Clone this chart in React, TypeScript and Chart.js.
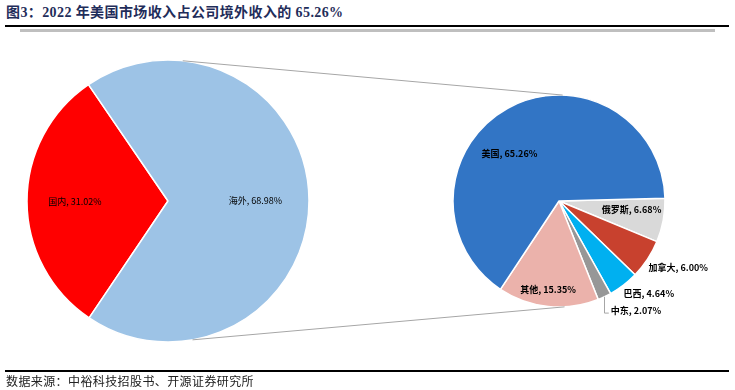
import React, { useEffect, useRef } from "react";
import { Chart, registerables } from "chart.js";

Chart.register(...registerables);

// ---- data ----
const mainCategories = ["国内", "海外"];
const mainValues = [31.02, 68.98];
const subCategories = ["俄罗斯", "加拿大", "巴西", "中东", "其他", "美国"];
const subValues = [6.68, 6.0, 4.64, 2.07, 15.35, 65.26];

const titleText = "图3：2022 年美国市场收入占公司境外收入的 65.26%";
const sourceText = "数据来源：中裕科技招股书、开源证券研究所";

// ---- styles ----
const mainColors = ["#FF0000", "#9DC3E6"];
const subColors = ["#D9D9D9", "#C8412E", "#00B0F0", "#979797", "#EBB2AB", "#3275C5"];
const mainLabelLayout = [
  { da: 0, f: 0.66, leader: false },
  { da: 0, f: 0.62, leader: false },
];
const subLabelLayout = [
  { da: -3.5, f: 0.69, leader: false },
  { da: -4, f: 1.29, leader: false },
  { da: -6.5, f: 1.22, leader: false },
  { da: -9.8, f: 1.26, leader: true },
  { da: 1.1, f: 0.84, leader: false },
  { da: -17, f: 0.65, leader: false },
];
const W = 735;
const H = 390;

function labelPlugin(id: string, cats: string[], vals: number[], layout: any[], font: string) {
  return {
    id,
    afterDatasetsDraw(chart: any) {
      const ctx = chart.ctx;
      const arcs = chart.getDatasetMeta(0).data;
      ctx.save();
      ctx.font = font;
      ctx.fillStyle = "#000";
      ctx.textAlign = "center";
      ctx.textBaseline = "middle";
      arcs.forEach((arc: any, i: number) => {
        const p = arc.getProps(["x", "y", "startAngle", "endAngle", "outerRadius"], true);
        const mid = (p.startAngle + p.endAngle) / 2;
        const L = layout[i];
        const a = mid + (L.da * Math.PI) / 180;
        const lx = p.x + Math.cos(a) * p.outerRadius * L.f;
        const ly = p.y + Math.sin(a) * p.outerRadius * L.f;
        const text = `${cats[i]}, ${vals[i].toFixed(2)}%`;
        ctx.fillText(text, lx, ly);
        if (L.leader) {
          const tw = ctx.measureText(text).width;
          const ex = p.x + Math.cos(mid) * p.outerRadius;
          const ey = p.y + Math.sin(mid) * p.outerRadius;
          ctx.strokeStyle = "#A6A6A6";
          ctx.lineWidth = 1;
          ctx.beginPath();
          ctx.moveTo(ex, ey);
          ctx.lineTo(ex, ly + 3);
          ctx.lineTo(lx - tw / 2 - 2, ly + 3);
          ctx.stroke();
        }
      });
      ctx.restore();
    },
  };
}

export default function App() {
  const c1 = useRef<HTMLCanvasElement>(null);
  const c2 = useRef<HTMLCanvasElement>(null);

  useEffect(() => {
    document.body.style.margin = "0";
    const common = (padding: any, radius: number, rotation: number) => ({
      responsive: false,
      animation: false as const,
      rotation,
      radius,
      layout: { padding },
      plugins: { legend: { display: false }, tooltip: { enabled: false } },
    });

    const chart1 = new Chart(c1.current!, {
      type: "pie",
      data: {
        labels: mainCategories,
        datasets: [
          {
            data: mainValues,
            backgroundColor: mainColors,
            borderColor: "#FFFFFF",
            borderWidth: 1.5,
          },
        ],
      },
      options: common({ left: 27, top: 60, right: W - 309, bottom: H - 342 }, 141, 214) as any,
      plugins: [labelPlugin("lbl1", mainCategories, mainValues, mainLabelLayout, "9px 'Noto Sans CJK SC'")],
    });

    const connector = {
      id: "connector",
      afterDatasetsDraw(chart: any) {
        const a1: any = chart1.getDatasetMeta(0).data[0];
        const a2: any = chart.getDatasetMeta(0).data[0];
        if (!a1 || !a2) return;
        const ctx = chart.ctx;
        const deg = Math.PI / 180;
        const pt = (a: any, ang: number) => [
          a.x + Math.cos(ang * deg) * a.outerRadius,
          a.y + Math.sin(ang * deg) * a.outerRadius,
        ];
        const s1 = pt(a1, -84);
        const e1 = pt(a2, -88);
        const s2 = pt(a1, 80);
        const e2 = pt(a2, 87);
        ctx.save();
        ctx.strokeStyle = "#A6A6A6";
        ctx.lineWidth = 1;
        ctx.beginPath();
        ctx.moveTo(s1[0], s1[1]);
        ctx.lineTo(e1[0], e1[1]);
        ctx.moveTo(s2[0], s2[1]);
        ctx.lineTo(e2[0], e2[1]);
        ctx.stroke();
        ctx.restore();
      },
    };

    const chart2 = new Chart(c2.current!, {
      type: "pie",
      data: {
        labels: subCategories,
        datasets: [
          {
            data: subValues,
            backgroundColor: subColors,
            borderColor: "#FFFFFF",
            borderWidth: 1.5,
          },
        ],
      },
      options: common({ left: 453, top: 95, right: W - 665, bottom: H - 307 }, 106, 88.5) as any,
      plugins: [
        connector,
        labelPlugin("lbl2", subCategories, subValues, subLabelLayout, "bold 9px 'Noto Sans CJK SC'"),
      ],
    });

    return () => {
      chart2.destroy();
      chart1.destroy();
    };
  }, []);

  return (
    <div style={{ position: "fixed", left: 0, top: 0, width: W, height: H, background: "#fff", overflow: "hidden" }}>
      <div
        style={{
          position: "absolute",
          left: 6,
          top: 4,
          fontFamily: "'Liberation Serif', 'Noto Sans CJK SC', serif",
          fontWeight: "bold",
          fontSize: 14,
          letterSpacing: "0.4px",
          color: "#1F2D5A",
          whiteSpace: "nowrap",
          lineHeight: "18px",
        }}
      >
        {titleText}
      </div>
      <div style={{ position: "absolute", left: 5, top: 25, width: 724, height: 1.5, background: "#000" }} />
      <div style={{ position: "absolute", left: 20, top: 29, width: 695, height: 2.5, background: "#BFBFBF" }} />
      <canvas ref={c1} width={W} height={H} style={{ position: "absolute", left: 0, top: 0 }} />
      <canvas ref={c2} width={W} height={H} style={{ position: "absolute", left: 0, top: 0 }} />
      <div style={{ position: "absolute", left: 5, top: 370, width: 724, height: 1.5, background: "#000" }} />
      <div
        style={{
          position: "absolute",
          left: 6,
          top: 373,
          fontFamily: "'Noto Sans CJK SC', serif",
          fontSize: 12,
          letterSpacing: "0.4px",
          color: "#222",
          whiteSpace: "nowrap",
          lineHeight: "16px",
        }}
      >
        {sourceText}
      </div>
    </div>
  );
}
